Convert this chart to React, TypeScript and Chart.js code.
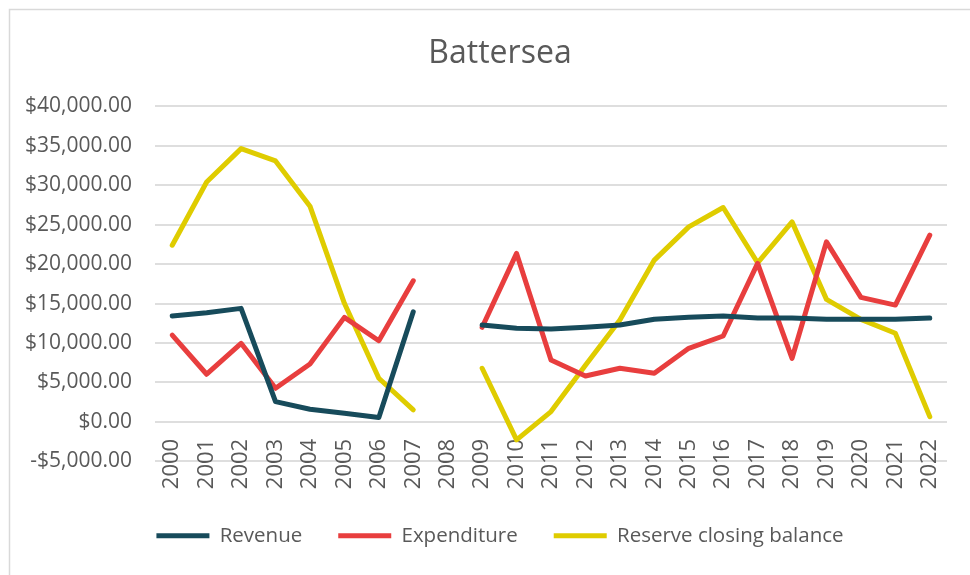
import React, { useEffect, useRef } from "react";
import { Chart, registerables } from "chart.js";

Chart.register(...registerables);

const years = ["2000","2001","2002","2003","2004","2005","2006","2007","2008","2009","2010","2011","2012","2013","2014","2015","2016","2017","2018","2019","2020","2021","2022"];
const revenue = [13420, 13840, 14390, 2570, 1600, 1100, 550, 13960, null, 12280, 11860, 11770, 11990, 12280, 13000, 13250, 13420, 13170, 13170, 13000, 13000, 13000, 13170];
const expenditure = [11010, 6040, 9960, 4260, 7340, 13250, 10290, 17890, null, 11990, 21360, 7850, 5820, 6800, 6160, 9330, 10890, 20090, 8060, 22830, 15790, 14810, 23670];
const reserve = [22400, 30420, 34650, 33080, 27350, 15030, 5530, 1520, null, 6800, -2280, 1300, 7180, 12910, 20510, 24730, 27180, 20170, 25360, 15530, 13000, 11230, 670];
const yMin = -5000;
const yMax = 40000;
const yStep = 5000;

const FONT = "'Open Sans', 'Liberation Sans', sans-serif";
const TEXT = "#595959";
const CANVAS_W = 998;
const VIEW_W = 970;
const H = 575;

const frame = {
  id: "frame",
  beforeDraw(chart: any) {
    const ctx = chart.ctx;
    ctx.save();
    ctx.fillStyle = "#ffffff";
    ctx.fillRect(0, 0, chart.width, chart.height);
    ctx.strokeStyle = "#d9d9d9";
    ctx.lineWidth = 1.5;
    ctx.beginPath();
    ctx.moveTo(9.5, chart.height);
    ctx.lineTo(9.5, 9.5);
    ctx.lineTo(chart.width, 9.5);
    ctx.stroke();
    ctx.restore();
  },
};

function fmt(v: number) {
  const s = "$" + Math.abs(v).toLocaleString("en-US", { minimumFractionDigits: 2, maximumFractionDigits: 2 });
  return v < 0 ? "-" + s : s;
}

export default function App() {
  const ref = useRef<HTMLCanvasElement>(null);
  useEffect(() => {
    if (!ref.current) return;
    const common = { borderWidth: 5, pointRadius: 0, borderCapStyle: "round", borderJoinStyle: "round", spanGaps: false, tension: 0 };
    const chart = new Chart(ref.current, {
      type: "line",
      data: {
        labels: years,
        datasets: [
          { label: "Revenue", data: revenue, borderColor: "#174b5b", backgroundColor: "#174b5b", ...common },
          { label: "Expenditure", data: expenditure, borderColor: "#e83e3e", backgroundColor: "#e83e3e", ...common },
          { label: "Reserve closing balance", data: reserve, borderColor: "#dfcc00", backgroundColor: "#dfcc00", ...common },
        ] as any,
      },
      options: {
        animation: false,
        responsive: false,
        maintainAspectRatio: false,
        layout: { padding: { left: 2, right: 0, top: 0, bottom: 19 } },
        plugins: {
          title: {
            display: true,
            text: "Battersea",
            color: TEXT,
            font: { family: FONT, size: 32, weight: "normal" },
            padding: { top: 35, bottom: 33 },
          },
          legend: {
            position: "bottom",
            title: { display: true, text: "", font: { size: 1 }, padding: { top: 27, bottom: 0 } },
            labels: {
              usePointStyle: true,
              pointStyle: "line",
              pointStyleWidth: 53,
              padding: 36,
              color: TEXT,
              font: { family: FONT, size: 20.5 },
            },
          },
          tooltip: { enabled: false },
        },
        scales: {
          x: {
            position: { y: 0 },
            offset: true,
            grid: { display: false, drawTicks: false },
            border: { display: false },
            afterFit: (s: any) => { s.height = 0; },
            ticks: {
              minRotation: 90,
              maxRotation: 90,
              autoSkip: false,
              padding: 17,
              color: TEXT,
              font: { family: FONT, size: 22 },
            },
          },
          y: {
            min: yMin,
            max: yMax,
            grid: { color: "#dedede", lineWidth: 2, drawTicks: false },
            border: { display: false },
            ticks: {
              stepSize: yStep,
              padding: 23,
              color: TEXT,
              font: { family: FONT, size: 21 },
              callback: (v: any) => fmt(Number(v)),
            },
          },
          yPad: {
            type: "linear",
            position: "right",
            grid: { display: false, drawTicks: false },
            border: { display: false },
            ticks: { display: false },
            afterFit: (s: any) => { s.width = CANVAS_W - 947; },
          },
        },
      } as any,
      plugins: [frame],
    });
    return () => chart.destroy();
  }, []);
  return (
    <div style={{ position: "absolute", left: 0, top: 0, width: VIEW_W, height: H, overflow: "hidden" }}>
      <canvas ref={ref} width={CANVAS_W} height={H} style={{ display: "block", width: CANVAS_W, height: H }} />
    </div>
  );
}
